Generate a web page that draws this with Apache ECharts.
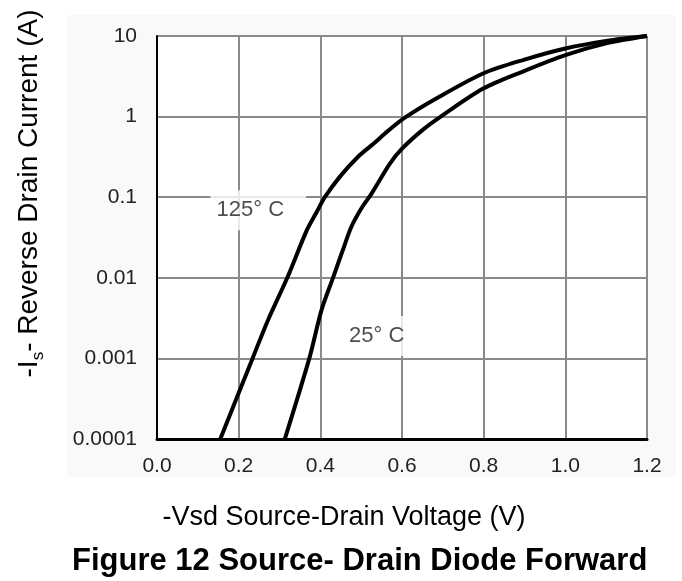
<!DOCTYPE html>
<html>
<head>
<meta charset="utf-8">
<script src="https://cdn.jsdelivr.net/npm/echarts@6/dist/echarts.min.js"></script>
<style>
  html, body { margin: 0; padding: 0; background: #fff; }
  #chart { width: 682px; height: 581px; }
</style>
</head>
<body>
<div id="chart"></div>
<script>
// values
const vsd125 = [0.155, 0.234, 0.272, 0.319, 0.367, 0.39, 0.411, 0.448, 0.493, 0.53, 0.565, 0.607, 0.685, 0.8, 0.9, 1.0, 1.1, 1.2];
const is125 = [0.0001, 0.001, 0.003, 0.01, 0.039, 0.064, 0.1, 0.18, 0.32, 0.46, 0.66, 0.97, 1.69, 3.45, 5.1, 7.0, 8.7, 10];
const vsd25 = [0.313, 0.373, 0.403, 0.431, 0.455, 0.476, 0.5, 0.525, 0.57, 0.6, 0.65, 0.695, 0.8, 0.9, 1.0, 1.1, 1.2];
const is25 = [0.0001, 0.001, 0.004, 0.01, 0.022, 0.043, 0.072, 0.11, 0.26, 0.4, 0.68, 1.0, 2.24, 3.7, 5.8, 8.1, 10];

const xTickLabels = ["0.0", "0.2", "0.4", "0.6", "0.8", "1.0", "1.2"];
const yTickLabels = ["0.0001", "0.001", "0.01", "0.1", "1", "10"];

const curveNames = ["125° C", "25° C"];
const curveLabelPos = [[0.248, 0.069], [0.538, 0.0019]];

const font = "Liberation Sans, Arial, sans-serif";

const zip = (xs, ys) => xs.map((x, i) => [x, ys[i]]);

const chart = echarts.init(document.getElementById("chart"));

const curve = (name, xs, ys) => ({
  name,
  type: "line",
  data: zip(xs, ys),
  showSymbol: false,
  smooth: 0.3,
  z: 3,
  lineStyle: { color: "#000", width: 4 }
});

chart.setOption({
  animation: false,
  backgroundColor: "#fff",
  textStyle: { fontFamily: font },
  title: {
    text: "Figure 12 Source- Drain Diode Forward",
    left: 72,
    top: 546,
    padding: 0,
    textStyle: { fontFamily: font, fontSize: 31, fontWeight: "bold", color: "#000" }
  },
  graphic: [{
    type: "rect",
    z: -10,
    silent: true,
    shape: { x: 67, y: 15, width: 609, height: 462 },
    style: { fill: "#f9f9f9" }
  }],
  grid: {
    left: 157, right: 35, top: 36, bottom: 142,
    show: true, backgroundColor: "#fff", borderWidth: 0
  },
  xAxis: {
    type: "value",
    min: 0, max: 1.2, interval: 0.2,
    name: "-Vsd Source-Drain Voltage (V)",
    nameLocation: "middle",
    nameGap: 65,
    nameTextStyle: { fontSize: 27, color: "#000", padding: [0, 116, 0, 0] },
    axisLine: { lineStyle: { color: "#000", width: 3 } },
    axisTick: { show: false },
    axisLabel: {
      margin: 17, fontSize: 21, color: "#222",
      formatter: v => xTickLabels[Math.round(v / 0.2)]
    },
    splitLine: { show: true, lineStyle: { color: "#8a8a8a", width: 2 } }
  },
  yAxis: {
    type: "log",
    logBase: 10,
    min: 0.0001, max: 10,
    name: "-I{s|s}- Reverse Drain Current (A)",
    nameLocation: "middle",
    nameGap: 110,
    nameTextStyle: {
      fontSize: 28, color: "#000", lineHeight: 36, padding: [0, 0, 0, 88],
      rich: { s: { fontSize: 17, lineHeight: 17, verticalAlign: "bottom", color: "#000" } }
    },
    axisLine: { show: true, lineStyle: { color: "#000", width: 2 } },
    axisTick: { show: false },
    axisLabel: {
      margin: 20, fontSize: 21, color: "#222",
      formatter: v => yTickLabels[Math.round(Math.log10(v)) + 4]
    },
    splitLine: { show: true, lineStyle: { color: "#8a8a8a", width: 2 } }
  },
  series: [
    curve(curveNames[0], vsd125, is125),
    curve(curveNames[1], vsd25, is25),
    {
      type: "scatter",
      z: 2,
      symbolSize: 0,
      data: [
        { value: curveLabelPos[0], name: curveNames[0], label: { padding: [9, 22, 9, 6] } },
        { value: curveLabelPos[1], name: curveNames[1], label: { padding: [9, 10, 9, 10] } }
      ],
      label: {
        show: true,
        position: "inside",
        formatter: "{b}",
        fontSize: 22,
        color: "#222",
        backgroundColor: "#fff"
      }
    }
  ]
});

window.addEventListener("resize", () => chart.resize());
</script>
</body>
</html>
